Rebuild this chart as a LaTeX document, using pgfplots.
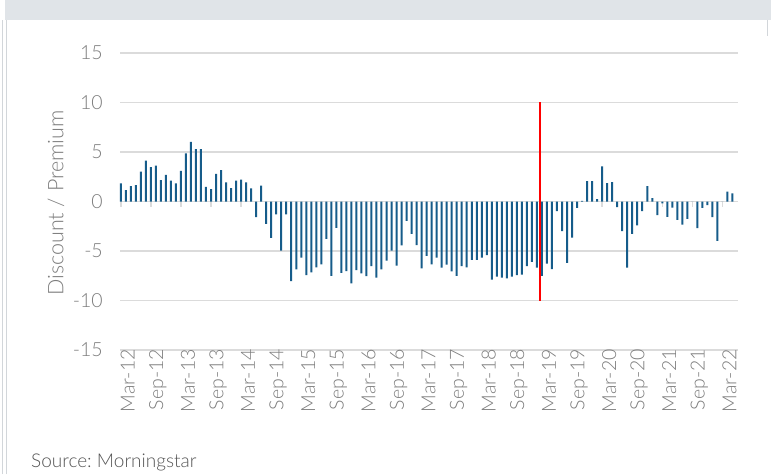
\documentclass[border=0pt]{standalone}
\usepackage{fontspec}
\setmainfont{Lato Light}
\usepackage{pgfplots}
\usepackage{pgfplotstable}
\pgfplotsset{compat=1.18}
\frenchspacing
\definecolor{barblue}{RGB}{22,92,138}
\definecolor{gridgray}{RGB}{219,219,219}
\definecolor{tickgray}{RGB}{125,125,125}
\definecolor{srcgray}{RGB}{85,85,85}
\definecolor{framegray}{RGB}{224,228,232}
\definecolor{framelines}{RGB}{210,214,218}

\pgfplotstableread{
x y
0 1.83
1 1.14
2 1.55
3 1.66
4 3.03
5 4.14
6 3.48
7 3.62
8 2.17
9 2.69
10 2.10
11 1.83
12 3.10
13 4.86
14 6.03
15 5.28
16 5.28
17 1.48
18 1.24
19 2.80
20 3.16
21 1.94
22 1.36
23 2.11
24 2.21
25 1.94
26 1.33
27 -1.58
28 1.60
29 -2.25
30 -3.68
31 -1.30
32 -4.95
33 -1.30
34 -8.05
35 -6.86
36 -5.66
37 -7.44
38 -7.16
39 -6.66
40 -6.35
41 -3.77
42 -7.50
43 -2.66
44 -7.20
45 -7.03
46 -8.26
47 -6.92
48 -7.26
49 -7.54
50 -6.52
51 -7.68
52 -6.86
53 -5.97
54 -4.95
55 -6.47
56 -4.43
57 -1.96
58 -3.28
59 -4.40
60 -6.76
61 -5.50
62 -6.35
63 -5.66
64 -6.69
65 -6.38
66 -7.06
67 -7.52
68 -6.52
69 -6.65
70 -5.90
71 -5.90
72 -5.66
73 -5.42
74 -7.88
75 -7.58
76 -7.68
77 -7.76
78 -7.58
79 -7.44
80 -7.38
81 -6.53
82 -6.09
83 -6.67
84 -7.52
85 -6.28
86 -6.82
87 -0.96
88 -2.99
89 -6.19
90 -3.64
91 -0.65
92 0.07
93 2.06
94 2.06
95 0.24
96 3.55
97 1.86
98 1.96
99 -0.57
100 -2.99
101 -6.67
102 -3.26
103 -2.40
104 -0.98
105 1.56
106 0.35
107 -1.38
108 -0.20
109 -1.56
110 -0.63
111 -1.85
112 -2.34
113 -1.75
114 0
115 -2.68
116 -0.65
117 -0.37
118 -1.58
119 -3.98
120 0
121 0.99
122 0.82
}\premdata

\begin{document}
\begin{tikzpicture}[x=1pt,y=1pt]
\useasboundingbox[fill=white] (0,0) rectangle (771,474);
\fill[framegray] (5,454) rectangle (771,474);
\draw[framelines, line width=1pt] (2.5,0) -- (2.5,454);
\draw[framelines, line width=1pt] (6.5,0) -- (6.5,454);
\draw[framelines, line width=1pt] (767,454) -- (767,438);
\begin{axis}[
  at={(120pt,124pt)}, anchor=south west,
  scale only axis, width=617.5pt, height=297pt,
  xmin=-0.15, xmax=123, ymin=-15, ymax=15,
  axis line style={draw=none},
  ytick={-15,-10,...,15},
  yticklabels={-15,-10,-5,0,5,10,15},
  ymajorgrids,
  grid style={gridgray, line width=1.5pt},
  xtick={0,6,...,120},
  xticklabels={Mar-12,Sep-12,Mar-13,Sep-13,Mar-14,Sep-14,Mar-15,Sep-15,Mar-16,Sep-16,Mar-17,Sep-17,Mar-18,Sep-18,Mar-19,Sep-19,Mar-20,Sep-20,Mar-21,Sep-21,Mar-22},
  major tick length=0pt,
  tick style={draw=none},
  ticklabel style={font=\fontsize{19.5}{21}\selectfont, text=tickgray},
  x tick label style={rotate=90, anchor=east, inner sep=0pt, yshift=-7pt, xshift=1pt},
  y tick label style={anchor=east, inner sep=0pt, xshift=-17pt},
  clip=false,
]
\pgfplotsinvokeforeach{0,6,...,120}{
  \draw[gridgray, line width=1.5pt] (axis cs:#1,0) -- ([yshift=-5pt]axis cs:#1,0);
}
\addplot[ybar, bar width=2pt, bar shift=0pt, fill=barblue, draw=none] table[x=x,y=y] {\premdata};
\addplot[color={rgb,255:red,255;green,0;blue,0}, line width=2pt] coordinates {(83.7,-10) (83.7,10)};
\end{axis}
\node[rotate=90, text=tickgray, font=\fontsize{21.5}{23}\selectfont] at (56,271) {Discount / Premium};
\node[anchor=west, text=srcgray, font=\fontsize{19}{21}\selectfont, inner sep=0pt] at (31,12) {Source: Morningstar};
\end{tikzpicture}
\end{document}
